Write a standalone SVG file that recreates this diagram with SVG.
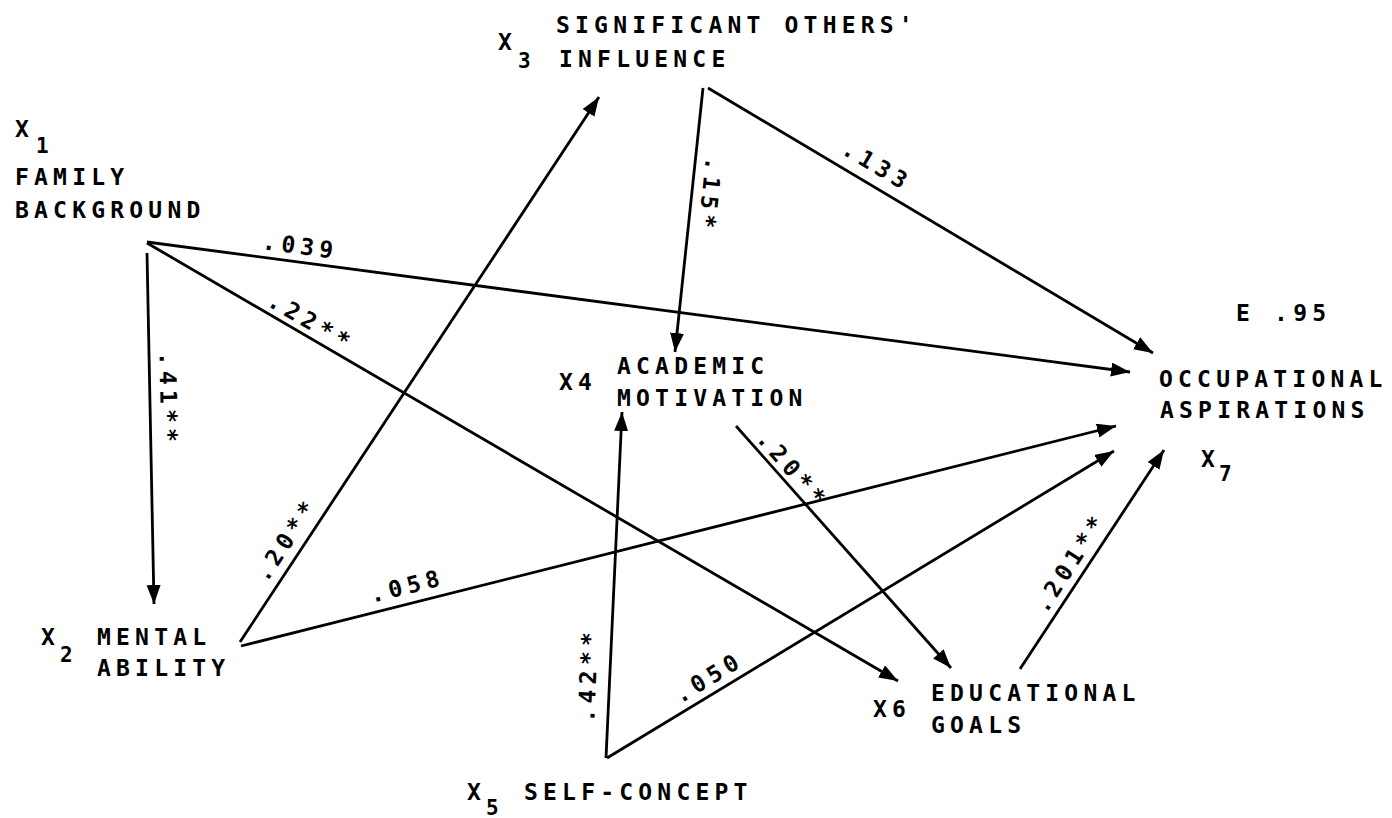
<svg xmlns="http://www.w3.org/2000/svg" width="1392" height="818" viewBox="0 0 1392 818">
<style>
.t{font-family:"DejaVu Sans Mono","Liberation Mono",monospace;font-size:23px;font-weight:bold;letter-spacing:5.2px;fill:#000}
.x{font-family:"DejaVu Sans Mono","Liberation Mono",monospace;font-size:23px;font-weight:bold;fill:#000}
.s{font-family:"DejaVu Sans Mono","Liberation Mono",monospace;font-size:21px;font-weight:bold;fill:#000}
.e{stroke:#000;stroke-width:2.8;fill:none;marker-end:url(#ah)}
</style>
<defs>
<marker id="ah" markerUnits="userSpaceOnUse" markerWidth="22" markerHeight="16" refX="19" refY="7" orient="auto">
<path d="M0,0 L19,7 L0,14 z" fill="#000"/>
</marker>
</defs>
<rect width="1392" height="818" fill="#fff"/>
<g id="connectors">
<line class="e" x1="147" y1="242" x2="1130" y2="372"/>
<line class="e" x1="147" y1="243" x2="898" y2="681"/>
<line class="e" x1="147" y1="253" x2="154" y2="604"/>
<line class="e" x1="240" y1="642" x2="599" y2="97"/>
<line class="e" x1="241" y1="646" x2="1116" y2="426"/>
<line class="e" x1="703" y1="88" x2="675" y2="352"/>
<line class="e" x1="708" y1="88" x2="1153" y2="353"/>
<line class="e" x1="606" y1="758" x2="622" y2="412"/>
<line class="e" x1="607" y1="758" x2="1114" y2="451"/>
<line class="e" x1="736" y1="426" x2="951" y2="668"/>
<line class="e" x1="1020" y1="669" x2="1164" y2="450"/>
<text class="t" transform="translate(261.5,249) rotate(7.5)">.039</text>
<text class="t" transform="translate(266,305) rotate(30)">.22**</text>
<text class="t" transform="translate(159.5,352) rotate(89)">.41**</text>
<text class="t" transform="translate(266.6,583.3) rotate(-56.4)">.20**</text>
<text class="t" transform="translate(372,603) rotate(-14.2)">.058</text>
<text class="t" transform="translate(705.9,156.5) rotate(96)">.15*</text>
<text class="t" transform="translate(840.2,152.9) rotate(30.8)">.133</text>
<text class="t" transform="translate(594.2,722.7) rotate(-87.5)">.42**</text>
<text class="t" transform="translate(680.2,704) rotate(-31.3)">.050</text>
<text class="t" transform="translate(755.5,439.3) rotate(48.7)">.20**</text>
<text class="t" transform="translate(1046,614.6) rotate(-57)">.201**</text>
</g>
<g id="x1">
<text class="x" x="15" y="137">X</text>
<text class="s" x="36" y="153">1</text>
<text class="t" x="15" y="185">FAMILY</text>
<text class="t" x="15" y="218">BACKGROUND</text>
</g>
<g id="x2">
<text class="x" x="41" y="645">X</text>
<text class="s" x="60" y="662">2</text>
<text class="t" x="97" y="645">MENTAL</text>
<text class="t" x="97" y="676">ABILITY</text>
</g>
<g id="x3">
<text class="x" x="498" y="50">X</text>
<text class="s" x="518" y="68">3</text>
<text class="t" x="556" y="33">SIGNIFICANT OTHERS'</text>
<text class="t" x="559" y="67">INFLUENCE</text>
</g>
<g id="x4">
<text class="t" x="559" y="390">X4</text>
<text class="t" x="617" y="374">ACADEMIC</text>
<text class="t" x="617" y="406">MOTIVATION</text>
</g>
<g id="x5">
<text class="x" x="467" y="800">X</text>
<text class="s" x="486" y="815">5</text>
<text class="t" x="524" y="800">SELF-CONCEPT</text>
</g>
<g id="x6">
<text class="t" x="873" y="717">X6</text>
<text class="t" x="931" y="701">EDUCATIONAL</text>
<text class="t" x="931" y="733">GOALS</text>
</g>
<g id="x7">
<text class="t" x="1236" y="321">E .95</text>
<text class="t" x="1159" y="387">OCCUPATIONAL</text>
<text class="t" x="1160" y="418">ASPIRATIONS</text>
<text class="x" x="1201" y="467">X</text>
<text class="s" x="1219" y="481">7</text>
</g>
</svg>
